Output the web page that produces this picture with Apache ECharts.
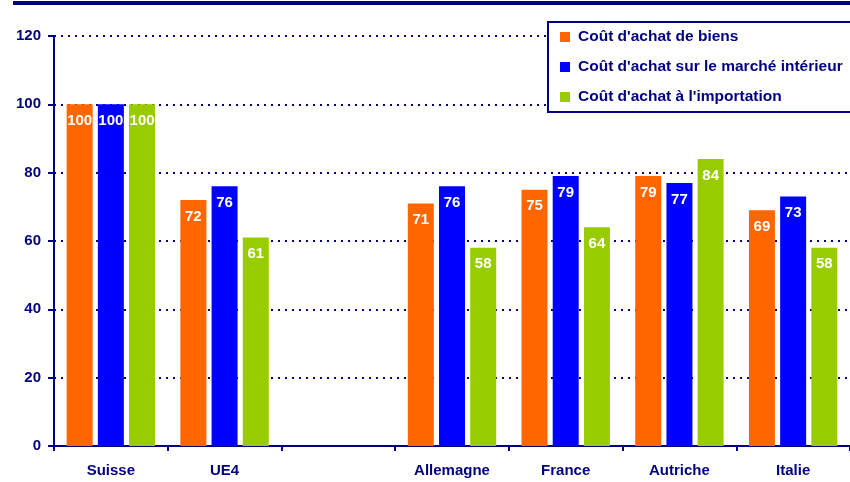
<!DOCTYPE html>
<html><head><meta charset="utf-8">
<script src="https://cdn.jsdelivr.net/npm/echarts@6/dist/echarts.min.js"></script>
<style>html,body{margin:0;padding:0;background:#fff}#c{width:850px;height:482px}</style>
</head><body><div id="c"></div>
<script>
const categories = ['Suisse', 'UE4', '', 'Allemagne', 'France', 'Autriche', 'Italie'];
const biens = [100, 72, null, 71, 75, 79, 69];
const interieur = [100, 76, null, 76, 79, 77, 73];
const importation = [100, 61, null, 58, 64, 84, 58];
const seriesNames = ["Coût d'achat de biens", "Coût d'achat sur le marché intérieur", "Coût d'achat à l'importation"];
const yTicks = [0, 20, 40, 60, 80, 100, 120];

const navy = '#000080';
const font = 'Liberation Sans, Arial, sans-serif';
const chart = echarts.init(document.getElementById('c'));
const lbl = {show: true, position: 'insideTop', distance: 9, color: '#fff', fontWeight: 'bold', fontSize: 15, fontFamily: font};
chart.setOption({
  animation: false,
  textStyle: {fontFamily: font},
  graphic: [{type: 'rect', shape: {x: 13, y: 1, width: 850, height: 4}, style: {fill: navy}}],
  legend: {
    orient: 'vertical', left: 548, top: 22, itemWidth: 10, itemHeight: 10, itemGap: 14,
    padding: [7, 10, 7, 12], borderColor: navy, borderWidth: 2, backgroundColor: '#fff',
    textStyle: {color: navy, fontWeight: 'bold', fontSize: 15.5, fontFamily: font, padding: [0, 0, 0, 3]},
    data: seriesNames.map(n => ({name: n, icon: 'rect'}))
  },
  grid: {left: 54, right: -7, top: 36, bottom: 36, containLabel: false},
  xAxis: {
    type: 'category', data: categories,
    axisLine: {lineStyle: {color: navy, width: 2}},
    axisTick: {show: true, length: 5, lineStyle: {color: navy, width: 2}},
    axisLabel: {color: navy, fontWeight: 'bold', fontSize: 15, margin: 17, fontFamily: font}
  },
  yAxis: {
    type: 'value', min: yTicks[0], max: yTicks[yTicks.length - 1], interval: 20,
    axisLine: {show: true, lineStyle: {color: navy, width: 2}},
    axisTick: {show: true, length: 6, lineStyle: {color: navy, width: 2}},
    axisLabel: {color: navy, fontWeight: 'bold', fontSize: 15, margin: 13, fontFamily: font},
    splitLine: {lineStyle: {color: navy, width: 2, type: [2, 5]}}
  },
  series: [
    {name: seriesNames[0], type: 'bar', data: biens, itemStyle: {color: '#FF6600'}, barWidth: 26, barGap: '20%', label: lbl},
    {name: seriesNames[1], type: 'bar', data: interieur, itemStyle: {color: '#0000FF'}, barWidth: 26, barGap: '20%', label: lbl},
    {name: seriesNames[2], type: 'bar', data: importation, itemStyle: {color: '#99CC00'}, barWidth: 26, barGap: '20%', label: lbl}
  ]
});
</script></body></html>
